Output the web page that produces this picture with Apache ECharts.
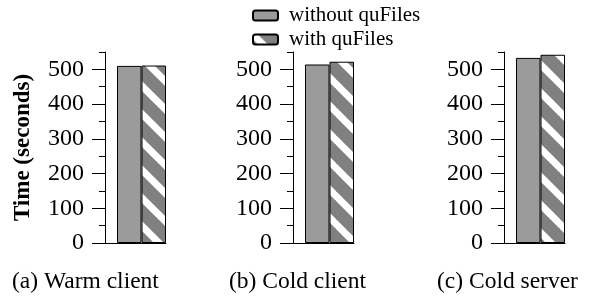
<!DOCTYPE html>
<html lang="en">
<head>
    <meta charset="UTF-8">
    <title>quFiles time</title>
    <script src="https://cdn.jsdelivr.net/npm/echarts@6/dist/echarts.min.js"></script>
    <style>
        html, body { margin: 0; padding: 0; background: #fff; }
    </style>
</head>
<body>
<div id="main" style="width: 609px;height: 305px"></div>
<script>
    // data
    var panels = ['(a) Warm client', '(b) Cold client', '(c) Cold server'];
    var seriesNames = ['without quFiles', 'with quFiles'];
    var withoutQuFiles = [510, 514, 533];
    var withQuFiles = [511, 522, 542];
    var yTicks = [0, 100, 200, 300, 400, 500];
    var yMax = 550;

    var gridLefts = [105, 293, 504];
    var titleLefts = [12, 229, 437];
    var font = 'Liberation Serif, Times New Roman, serif';

    // diagonal hatch for the "with quFiles" bars
    function hatch() {
        var s = 28;
        var c = document.createElement('canvas');
        c.width = s;
        c.height = s;
        var g = c.getContext('2d');
        g.fillStyle = '#808080';
        g.fillRect(0, 0, s, s);
        g.strokeStyle = '#ffffff';
        g.lineWidth = 7;
        [-s, 0, s].forEach(function (k) {
            g.beginPath();
            g.moveTo(-2, k - 2);
            g.lineTo(s + 2, k + s + 2);
            g.stroke();
        });
        return { image: c, repeat: 'repeat' };
    }
    var hatchFill = hatch();

    var chartDom = document.getElementById('main');
    var myChart = echarts.init(chartDom);

    var grid = [], xAxis = [], yAxis = [], series = [], title = [];
    for (var i = 0; i < panels.length; i++) {
        grid.push({ left: gridLefts[i], top: 52, width: 61, height: 191 });
        title.push({
            text: panels[i], left: titleLefts[i], top: 270, padding: 0,
            textStyle: { fontFamily: font, fontSize: 23.5, fontWeight: 'normal', color: '#000' }
        });
        xAxis.push({
            type: 'category', gridIndex: i, data: [panels[i]],
            axisLine: { lineStyle: { color: '#000', width: 1 } },
            axisTick: { show: false },
            axisLabel: { show: false }
        });
        // minor ticks + labels
        yAxis.push({
            type: 'value', gridIndex: i, position: 'left', min: 0, max: yMax, interval: 50,
            name: i === 0 ? 'Time (seconds)' : '',
            nameLocation: 'middle', nameGap: 70,
            nameTextStyle: { fontFamily: font, fontSize: 23, fontWeight: 'bold', color: '#000' },
            axisLine: { show: true, lineStyle: { color: '#000', width: 1 } },
            axisTick: { show: true, length: 6, lineStyle: { color: '#000' } },
            axisLabel: {
                margin: 21, fontFamily: font, fontSize: 24, color: '#000',
                formatter: function (v) { return yTicks.indexOf(v) >= 0 ? String(v) : ''; }
            },
            splitLine: { show: false }
        });
        // long major ticks
        yAxis.push({
            type: 'value', gridIndex: i, position: 'left', min: 0, max: yMax,
            axisLine: { show: false },
            axisTick: { show: true, length: 13, customValues: yTicks, lineStyle: { color: '#000' } },
            axisLabel: { show: false },
            splitLine: { show: false }
        });

        series.push({
            name: 'spacer', type: 'bar', xAxisIndex: i, yAxisIndex: i * 2,
            data: [0], barWidth: 12, barGap: '0%', silent: true,
            itemStyle: { color: 'rgba(0,0,0,0)', borderWidth: 0 }
        });
        series.push({
            name: seriesNames[0], type: 'bar', xAxisIndex: i, yAxisIndex: i * 2,
            data: [withoutQuFiles[i]], barWidth: 24.5, barGap: '0%',
            itemStyle: { color: '#9b9b9b', borderColor: '#000', borderWidth: 1 }
        });
        series.push({
            name: seriesNames[1], type: 'bar', xAxisIndex: i, yAxisIndex: i * 2,
            data: [withQuFiles[i]], barWidth: 24.5, barGap: '0%',
            itemStyle: { color: hatchFill, borderColor: '#000', borderWidth: 1 }
        });
    }

    var option = {
        animation: false,
        title: title,
        legend: {
            data: seriesNames,
            orient: 'vertical', left: 252, top: 5, padding: 0,
            icon: 'roundRect',
            itemWidth: 25, itemHeight: 10, itemGap: 3,
            textStyle: { fontFamily: font, fontSize: 21, color: '#000', padding: [0, 0, 0, 6] }
        },
        grid: grid,
        xAxis: xAxis,
        yAxis: yAxis,
        series: series
    };
    option && myChart.setOption(option);
</script>
</body>
</html>
